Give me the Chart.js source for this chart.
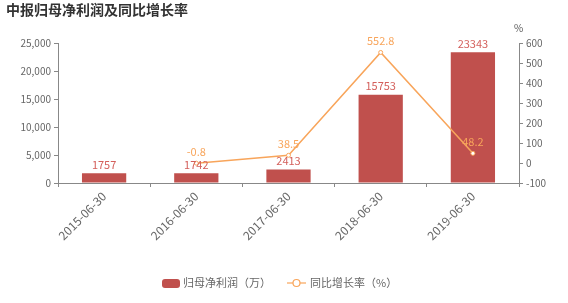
<!DOCTYPE html>
<html>
<head>
<meta charset="utf-8">
<script src="https://cdn.jsdelivr.net/npm/chart.js@4/dist/chart.umd.min.js"></script>
<style>
  html, body { margin: 0; padding: 0; background: #fff; }
  #wrap { width: 568px; height: 303px; position: relative; }
</style>
</head>
<body>
<div id="wrap"><canvas id="c" width="568" height="303"></canvas></div>
<script>
// dados
const categorias = ["2015-06-30", "2016-06-30", "2017-06-30", "2018-06-30", "2019-06-30"];
const lucroLiquido = [1757, 1742, 2413, 15753, 23343];
const crescimento = [null, -0.8, 38.5, 552.8, 48.2];
const ticksEsq = [0, 5000, 10000, 15000, 20000, 25000];
const ticksDir = [-100, 0, 100, 200, 300, 400, 500, 600];

const FONTE = "'Noto Sans CJK SC', 'Noto Sans', sans-serif";
const VERMELHO = "#c0504d";
const LARANJA = "#f8a55b";

// título, "%" e legenda desenhados à mão — mais controle sobre a posição
const decoracao = {
  id: "decoracao",
  afterDraw(chart) {
    const ctx = chart.ctx;
    ctx.save();
    ctx.textBaseline = "middle";
    ctx.fillStyle = "#333";
    ctx.font = "bold 14px " + FONTE;
    ctx.textAlign = "left";
    ctx.fillText("中报归母净利润及同比增长率", 6, 10);

    ctx.font = "10px " + FONTE;
    ctx.fillStyle = "#555";
    ctx.fillText("%", 514, 28);

    // legenda
    const y = 283;
    ctx.fillStyle = VERMELHO;
    ctx.beginPath();
    ctx.roundRect(162, y - 4, 18, 9, 3);
    ctx.fill();
    ctx.fillStyle = "#666";
    ctx.font = "11px " + FONTE;
    ctx.fillText("归母净利润（万）", 183, y);

    ctx.strokeStyle = LARANJA;
    ctx.lineWidth = 1.2;
    ctx.beginPath();
    ctx.moveTo(287, y); ctx.lineTo(306, y);
    ctx.stroke();
    ctx.fillStyle = "#fff";
    ctx.beginPath();
    ctx.arc(296.5, y, 3.5, 0, Math.PI * 2);
    ctx.fill(); ctx.stroke();
    ctx.fillStyle = "#666";
    ctx.fillText("同比增长率（%）", 310, y);
    ctx.restore();
  }
};

// rótulos de valor acima das barras e dos pontos
const rotulos = {
  id: "rotulos",
  afterDatasetsDraw(chart) {
    const ctx = chart.ctx;
    ctx.save();
    ctx.textAlign = "center";
    ctx.textBaseline = "bottom";
    ctx.font = "11px " + FONTE;
    chart.getDatasetMeta(0).data.forEach((el, i) => {
      ctx.fillStyle = "#d4605c";
      ctx.fillText(String(lucroLiquido[i]), el.x, el.y - 3);
    });
    chart.getDatasetMeta(1).data.forEach((el, i) => {
      if (crescimento[i] == null) return;
      ctx.fillStyle = LARANJA;
      ctx.fillText(String(crescimento[i]), el.x, el.y - 6);
    });
    ctx.restore();
  }
};

new Chart(document.getElementById("c").getContext("2d"), {
  data: {
    labels: categorias,
    datasets: [
      {
        type: "bar",
        label: "归母净利润（万）",
        data: lucroLiquido,
        backgroundColor: VERMELHO,
        categoryPercentage: 0.48,
        barPercentage: 1,
        yAxisID: "y",
        order: 2,
      },
      {
        type: "line",
        label: "同比增长率（%）",
        data: crescimento,
        borderColor: LARANJA,
        borderWidth: 1.5,
        pointRadius: 2,
        pointBackgroundColor: "#fff",
        pointBorderColor: LARANJA,
        pointBorderWidth: 1,
        tension: 0,
        spanGaps: false,
        yAxisID: "y1",
        order: 1,
      },
    ],
  },
  options: {
    responsive: false,
    animation: false,
    events: [],
    layout: { padding: { top: 43, left: 0, right: 0, bottom: 0 } },
    plugins: { legend: { display: false }, tooltip: { enabled: false } },
    scales: {
      x: {
        offset: true,
        afterFit: s => { s.height = 120; },
        grid: { display: true, offset: true, drawOnChartArea: false, tickLength: 4, color: "#888" },
        border: { display: true, color: "#888" },
        ticks: { maxRotation: 45, minRotation: 45, color: "#666", font: { size: 12, family: FONTE }, padding: 2 },
      },
      y: {
        position: "left",
        min: 0, max: 25000,
        afterFit: s => { s.width = 58; },
        afterBuildTicks: s => { s.ticks = ticksEsq.map(v => ({ value: v })); },
        grid: { drawOnChartArea: false, tickLength: 4, color: "#888" },
        border: { display: true, color: "#888" },
        ticks: {
          color: "#666", font: { size: 10, family: FONTE }, padding: 3,
          callback: v => v.toLocaleString("en-US"),
        },
      },
      y1: {
        position: "right",
        min: -100, max: 600,
        afterFit: s => { s.width = 49; },
        afterBuildTicks: s => { s.ticks = ticksDir.map(v => ({ value: v })); },
        grid: { drawOnChartArea: false, tickLength: 4, color: "#888" },
        border: { display: true, color: "#888" },
        ticks: { color: "#666", font: { size: 10, family: FONTE }, padding: 3 },
      },
    },
  },
  plugins: [decoracao, rotulos],
});
</script>
</body>
</html>
